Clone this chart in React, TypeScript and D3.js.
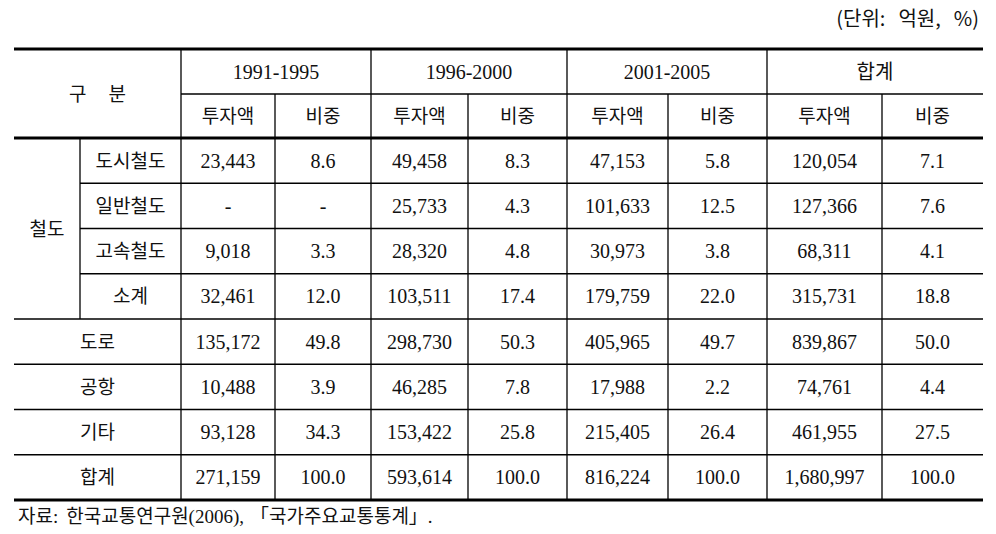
import React from "react";
import * as d3 from "d3";

// 기간별 철도·도로·공항 투자 실적 (단위: 억원, %)
const periods = ["1991-1995", "1996-2000", "2001-2005", "합계"];
const subHeads = ["투자액", "비중"];
const railLabels = ["도시철도", "일반철도", "고속철도", "소계"];
const otherLabels = ["도로", "공항", "기타", "합계"];

const inv1991 = [23443, null, 9018, 32461, 135172, 10488, 93128, 271159];
const share1991 = [8.6, null, 3.3, 12.0, 49.8, 3.9, 34.3, 100.0];
const inv1996 = [49458, 25733, 28320, 103511, 298730, 46285, 153422, 593614];
const share1996 = [8.3, 4.3, 4.8, 17.4, 50.3, 7.8, 25.8, 100.0];
const inv2001 = [47153, 101633, 30973, 179759, 405965, 17988, 215405, 816224];
const share2001 = [5.8, 12.5, 3.8, 22.0, 49.7, 2.2, 26.4, 100.0];
const invTotal = [120054, 127366, 68311, 315731, 839867, 74761, 461955, 1680997];
const shareTotal = [7.1, 7.6, 4.1, 18.8, 50.0, 4.4, 27.5, 100.0];

const W = 996;
const H = 534;
const FONT = "'Liberation Serif', 'Noto Sans CJK KR', serif";
const KFONT = "'Noto Sans CJK KR', sans-serif";

const App = () => {
  const rowLabels = [...railLabels, ...otherLabels];
  const columns = [
    { inv: inv1991, share: share1991 },
    { inv: inv1996, share: share1996 },
    { inv: inv2001, share: share2001 },
    { inv: invTotal, share: shareTotal },
  ];

  // column edges: label | sub label | (투자액, 비중) x 4
  const edges = [14, 80, 181, 275, 371, 468, 567, 668, 767, 882, 983];
  const left = edges[0];
  const right = edges[edges.length - 1];
  const top = 49;
  const headMid = 94;
  const headBottom = 138;
  const bottom = 500;

  const y = d3.scaleBand<number>()
    .domain(d3.range(rowLabels.length))
    .range([headBottom, bottom]);

  const fmtInv = d3.format(",");
  const fmtShare = d3.format(".1f");
  const cx = (i: number) => (edges[i] + edges[i + 1]) / 2;
  const rowMid = (i: number) => (y(i) as number) + y.bandwidth() / 2;

  const thin = 1.3;
  const thick = 3.2;
  const lines: { x1: number; x2: number; y1: number; y2: number; w: number }[] = [];
  // horizontal rules
  lines.push({ x1: left, x2: right, y1: top, y2: top, w: thick });
  lines.push({ x1: edges[2], x2: right, y1: headMid, y2: headMid, w: thin });
  lines.push({ x1: left, x2: right, y1: headBottom, y2: headBottom, w: thick });
  d3.range(1, rowLabels.length).forEach((i) => {
    const yy = y(i) as number;
    lines.push({ x1: i < railLabels.length ? edges[1] : left, x2: right, y1: yy, y2: yy, w: thin });
  });
  lines.push({ x1: left, x2: right, y1: bottom, y2: bottom, w: thick });
  // vertical rules
  lines.push({ x1: edges[1], x2: edges[1], y1: headBottom, y2: y(railLabels.length) as number, w: thin });
  [2, 4, 6, 8].forEach((i) => lines.push({ x1: edges[i], x2: edges[i], y1: top, y2: bottom, w: thin }));
  [3, 5, 7, 9].forEach((i) => lines.push({ x1: edges[i], x2: edges[i], y1: headMid, y2: bottom, w: thin }));

  const ink = "#111";

  return (
    <svg width={W} height={H} style={{ position: "absolute", left: 0, top: 0, background: "#fff" }}>
      <rect width={W} height={H} fill="#fff" />
      <text x={979} y={26} textAnchor="end" fontFamily={KFONT} fontSize={20} fill={ink}>
        <tspan>(단위:</tspan>
        <tspan dx={13}>억원,</tspan>
        <tspan dx={13}>%)</tspan>
      </text>

      {lines.map((l, i) => (
        <line key={i} x1={l.x1} x2={l.x2} y1={l.y1} y2={l.y2} stroke="#000" strokeWidth={l.w} />
      ))}

      {/* header */}
      <text x={(left + edges[2]) / 2} y={(top + headBottom) / 2 + 7} textAnchor="middle" fontFamily={KFONT} fontSize={19} fill={ink}>
        <tspan>구</tspan>
        <tspan dx={22}>분</tspan>
      </text>
      {periods.map((p, k) => (
        <text key={p} x={(edges[2 + 2 * k] + edges[4 + 2 * k]) / 2} y={(top + headMid) / 2 + 7}
          textAnchor="middle" fontFamily={FONT} fontSize={20} fill={ink}>
          {p}
        </text>
      ))}
      {periods.map((p, k) =>
        subHeads.map((s, j) => (
          <text key={p + s} x={cx(2 + 2 * k + j)} y={(headMid + headBottom) / 2 + 7}
            textAnchor="middle" fontFamily={KFONT} fontSize={19} fill={ink}>
            {s}
          </text>
        ))
      )}

      {/* row labels */}
      <text x={cx(0)} y={(headBottom + (y(railLabels.length) as number)) / 2 + 7}
        textAnchor="middle" fontFamily={KFONT} fontSize={19} fill={ink}>
        철도
      </text>
      {rowLabels.map((r, i) => (
        <text key={r + i} x={i < railLabels.length ? cx(1) : (left + edges[2]) / 2} y={rowMid(i) + 7}
          textAnchor="middle" fontFamily={KFONT} fontSize={19} fill={ink}>
          {r}
        </text>
      ))}

      {/* values */}
      {columns.map((c, k) =>
        rowLabels.map((_, i) => (
          <g key={k + "-" + i}>
            <text x={cx(2 + 2 * k)} y={rowMid(i) + 7} textAnchor="middle" fontFamily={FONT} fontSize={20} fill={ink}>
              {c.inv[i] == null ? "-" : fmtInv(c.inv[i] as number)}
            </text>
            <text x={cx(3 + 2 * k)} y={rowMid(i) + 7} textAnchor="middle" fontFamily={FONT} fontSize={20} fill={ink}>
              {c.share[i] == null ? "-" : fmtShare(c.share[i] as number)}
            </text>
          </g>
        ))
      )}

      <text x={18} y={523} fontFamily={FONT} fontSize={19} fill={ink}>
        <tspan>자료:</tspan>
        <tspan dx={8}>한국교통연구원(2006),</tspan>
        <tspan dx={6}>「국가주요교통통계」.</tspan>
      </text>
    </svg>
  );
};

export default App;
